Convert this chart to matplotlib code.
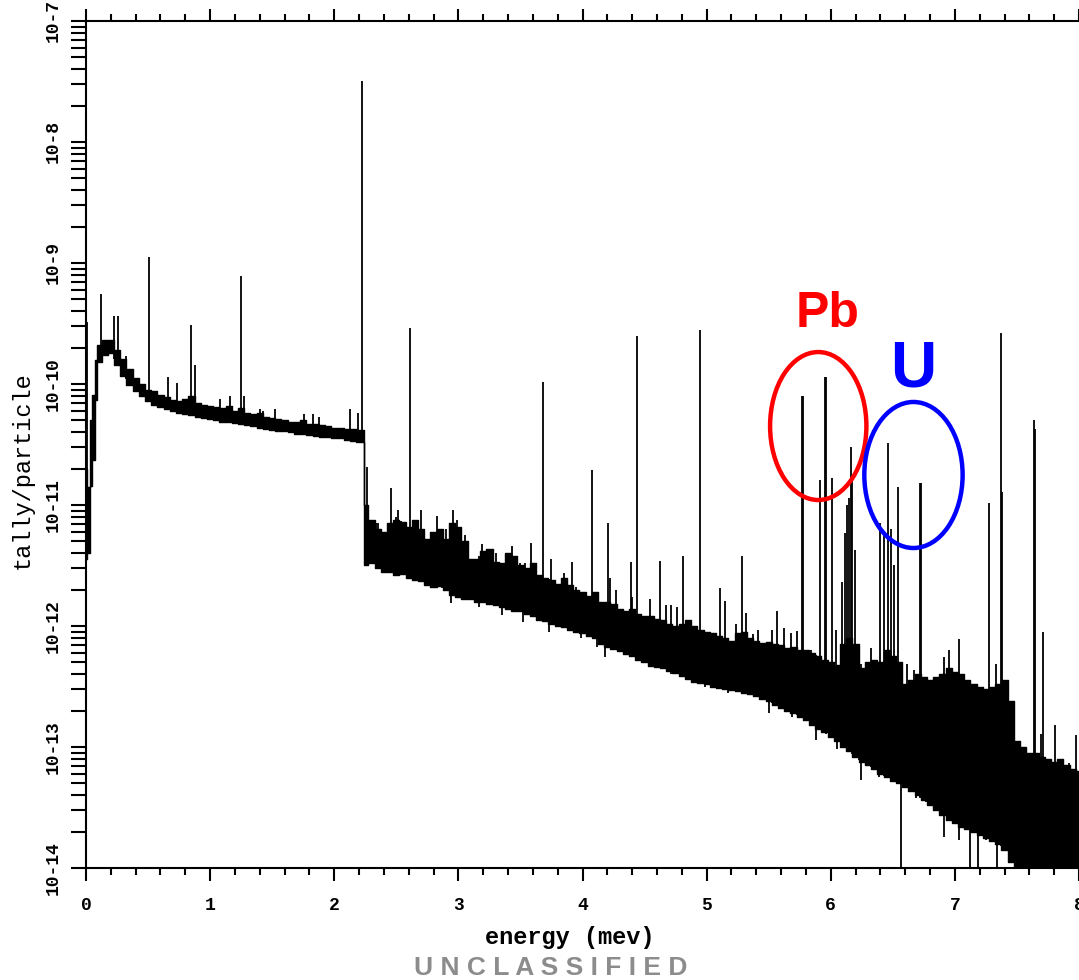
import matplotlib.pyplot as plt
import numpy as np
from matplotlib.patches import Ellipse
from matplotlib.ticker import FixedLocator, FuncFormatter, MultipleLocator, NullFormatter

# continuum band: energy (mev) and log10(tally/particle)
# of the upper and lower edge of the noisy trace
band_e = [
    0.00, 0.02, 0.04, 0.06, 0.08, 0.10,
    0.15, 0.20, 0.25, 0.30, 0.35, 0.40, 0.45, 0.50, 0.55, 0.60,
    0.65, 0.70, 0.75, 0.80, 0.85, 0.90, 0.95, 1.00, 1.05, 1.10,
    1.15, 1.20, 1.25, 1.30, 1.35, 1.40, 1.45, 1.50, 1.55, 1.60,
    1.65, 1.70, 1.75, 1.80, 1.85, 1.90, 1.95, 2.00, 2.05, 2.10,
    2.15, 2.20, 2.225,
    2.25, 2.30, 2.35, 2.40, 2.45, 2.50, 2.55, 2.60, 2.65, 2.70,
    2.75, 2.80, 2.85, 2.90, 2.95, 3.00, 3.05, 3.10, 3.15, 3.20,
    3.25, 3.30, 3.35, 3.40, 3.45, 3.50, 3.55, 3.60, 3.65, 3.70,
    3.75, 3.80, 3.85, 3.90, 3.95, 4.00, 4.05, 4.10, 4.15, 4.20,
    4.25, 4.30, 4.35, 4.40, 4.45, 4.50, 4.55, 4.60, 4.65, 4.70,
    4.75, 4.80, 4.85, 4.90, 4.95, 5.00, 5.05, 5.10, 5.15, 5.20,
    5.25, 5.30, 5.35, 5.40, 5.45, 5.50, 5.55, 5.60, 5.65, 5.70,
    5.75, 5.80, 5.85, 5.90, 5.95, 6.00, 6.05, 6.10, 6.15, 6.20,
    6.25, 6.30, 6.35, 6.40, 6.45, 6.50, 6.55, 6.60, 6.65, 6.70,
    6.75, 6.80, 6.85, 6.90, 6.95, 7.00, 7.05, 7.10, 7.15, 7.20,
    7.25, 7.30, 7.35, 7.40, 7.45, 7.50, 7.55, 7.60, 7.65, 7.70,
    7.75, 7.80, 7.85, 7.90, 7.95, 8.00,
]
band_hi = [
    -10.70, -10.85, -10.30, -10.09, -9.80, -9.68,
    -9.64, -9.64, -9.72, -9.79, -9.88, -9.95, -10.00, -10.05, -10.06, -10.09,
    -10.11, -10.13, -10.14, -10.12, -10.10, -10.16, -10.17, -10.18, -10.19, -10.20,
    -10.18, -10.22, -10.20, -10.24, -10.25, -10.24, -10.27, -10.28, -10.29, -10.30,
    -10.31, -10.31, -10.30, -10.33, -10.33, -10.34, -10.35, -10.36, -10.36, -10.37,
    -10.37, -10.38, -10.38,
    -11.00, -11.12, -11.20, -11.22, -11.15, -11.12, -11.14, -11.18, -11.12, -11.20,
    -11.28, -11.22, -11.20, -11.28, -11.15, -11.18, -11.30, -11.45, -11.45, -11.38,
    -11.36, -11.47, -11.48, -11.40, -11.42, -11.50, -11.52, -11.48, -11.58, -11.60,
    -11.62, -11.65, -11.60, -11.66, -11.70, -11.72, -11.75, -11.72, -11.80, -11.80,
    -11.82, -11.86, -11.88, -11.86, -11.90, -11.92, -11.92, -11.94, -11.95, -11.98,
    -12.00, -11.98, -11.95, -12.00, -12.03, -12.05, -12.06, -12.08, -12.10, -12.12,
    -12.06, -12.05, -12.10, -12.12, -12.14, -12.13, -12.15, -12.16, -12.18, -12.17,
    -12.20, -12.20, -12.22, -12.25, -12.28, -12.30, -12.32, -12.15, -12.10, -12.15,
    -12.35, -12.30, -12.28, -12.30, -12.20, -12.25, -12.30, -12.48, -12.45, -12.40,
    -12.42, -12.45, -12.42, -12.40, -12.35, -12.38, -12.40, -12.45, -12.48, -12.50,
    -12.52, -12.50, -12.48, -12.45, -12.62, -12.95, -13.00, -13.05, -13.05, -13.08,
    -13.10, -13.12, -13.10, -13.15, -13.18, -13.20,
]
band_lo = [
    -11.45, -11.40, -10.84, -10.63, -10.13, -9.82,
    -9.76, -9.74, -9.84, -9.93, -10.01, -10.06, -10.10, -10.14, -10.17, -10.19,
    -10.21, -10.22, -10.24, -10.25, -10.26, -10.27, -10.28, -10.29, -10.30, -10.31,
    -10.31, -10.32, -10.33, -10.34, -10.35, -10.36, -10.37, -10.38, -10.39, -10.39,
    -10.40, -10.41, -10.41, -10.42, -10.43, -10.44, -10.44, -10.45, -10.45, -10.46,
    -10.47, -10.48, -10.48,
    -11.50, -11.48, -11.52, -11.55, -11.55, -11.58, -11.57, -11.60, -11.62, -11.63,
    -11.66, -11.68, -11.67, -11.70, -11.74, -11.76, -11.78, -11.78, -11.80, -11.80,
    -11.82, -11.83, -11.84, -11.86, -11.88, -11.88, -11.90, -11.92, -11.95, -11.96,
    -11.98, -12.00, -12.01, -12.03, -12.05, -12.06, -12.08, -12.10, -12.15, -12.17,
    -12.19, -12.21, -12.23, -12.25, -12.28, -12.30, -12.33, -12.34, -12.35, -12.37,
    -12.39, -12.41, -12.44, -12.46, -12.47, -12.48, -12.50, -12.51, -12.52, -12.53,
    -12.54, -12.55, -12.56, -12.58, -12.60, -12.62, -12.65, -12.68, -12.70, -12.72,
    -12.75, -12.78, -12.82, -12.85, -12.88, -12.92, -12.95, -13.00, -13.03, -13.08,
    -13.12, -13.15, -13.18, -13.22, -13.25, -13.28, -13.30, -13.33, -13.36, -13.40,
    -13.44, -13.48, -13.52, -13.56, -13.60, -13.63, -13.66, -13.68, -13.70, -13.73,
    -13.75, -13.78, -13.80, -13.85, -13.95, -14.05, -14.05, -14.05, -14.05, -14.05,
    -14.05, -14.05, -14.05, -14.05, -14.05, -14.05,
]

# discrete lines and noise spikes above the band: energy (mev), log10 of peak
line_e = [
    0.01, 0.12, 0.225, 0.257, 0.32, 0.507, 0.66, 0.73, 0.845, 0.877,
    1.078, 1.158, 1.247, 1.271, 1.40, 1.424, 1.52, 1.76, 1.826, 1.874,
    2.124, 2.188, 2.22,
    2.26, 2.34, 2.35, 2.454, 2.50, 2.51, 2.607, 2.695, 2.824, 2.87,
    2.90, 2.96, 2.99, 3.05, 3.194, 3.25, 3.30, 3.36, 3.435, 3.50,
    3.54, 3.588, 3.685, 3.749, 3.85, 3.918, 3.95, 4.079, 4.208, 4.224,
    4.272, 4.393, 4.40, 4.441, 4.545, 4.626, 4.67, 4.714, 4.76, 4.81,
    4.948, 5.109, 5.149, 5.24, 5.286, 5.318, 5.37, 5.41, 5.53, 5.567,
    5.623, 5.68, 5.73, 5.765, 5.773, 5.84, 5.88, 5.913, 5.957, 5.965,
    6.01, 6.042, 6.09, 6.115, 6.13, 6.145, 6.16, 6.175, 6.195, 6.23,
    6.28, 6.323, 6.40, 6.43, 6.46, 6.485, 6.51, 6.54, 6.613, 6.67,
    6.722, 6.730, 6.77, 6.86, 6.91, 6.951, 7.031, 7.11, 7.17, 7.273,
    7.33, 7.369, 7.377, 7.51, 7.57, 7.635, 7.643, 7.69, 7.707, 7.804,
    7.92, 7.973,
]
line_top = [
    -9.49, -9.26, -9.44, -9.44, -9.77, -8.95, -9.94, -9.99, -9.51, -9.84,
    -10.12, -10.10, -9.11, -10.10, -10.21, -10.22, -10.21, -10.25, -10.25, -10.27,
    -10.21, -10.24, -7.50,
    -10.69, -11.15, -11.15, -10.86, -11.10, -11.04, -9.54, -11.04, -11.09, -11.23,
    -11.20, -11.04, -11.12, -11.25, -11.32, -11.37, -11.40, -11.48, -11.34, -11.48,
    -11.48, -11.31, -9.98, -11.45, -11.56, -11.47, -11.68, -10.71, -11.15, -11.60,
    -11.70, -11.47, -11.76, -9.60, -11.78, -11.46, -11.83, -11.83, -11.84, -11.42,
    -9.55, -11.69, -11.79, -11.98, -11.42, -11.89, -12.07, -12.03, -12.03, -11.88,
    -12.02, -12.06, -12.04, -10.10, -10.10, -12.20, -12.25, -10.79, -9.94, -9.94,
    -10.78, -12.03, -11.64, -11.23, -11.00, -10.94, -10.52, -10.75, -11.37, -12.28,
    -12.33, -12.18, -11.15, -11.22, -10.49, -11.20, -11.50, -10.85, -12.31, -12.36,
    -10.82, -10.82, -12.42, -12.47, -12.26, -12.20, -12.11, -12.50, -12.48, -10.98,
    -12.31, -9.58, -10.89, -12.96, -13.00, -10.30, -10.37, -12.89, -12.05, -12.82,
    -13.13, -12.90,
]

# noise spikes below the band: energy (mev), log10 of the bin bottom
notch_e = [
    2.43, 2.54, 2.94, 3.17, 3.35, 3.52, 3.73, 3.99, 4.12, 4.18,
    4.71, 4.99, 5.17, 5.50, 5.69, 5.88, 6.05, 6.24, 6.39, 6.69,
    6.91, 7.03, 7.25,
]
notch_bot = [
    -11.55, -11.55, -11.81, -11.84, -11.91, -11.97, -12.05, -12.10, -12.17, -12.26,
    -12.40, -12.50, -12.55, -12.72, -12.75, -12.94, -13.02, -13.27, -13.25, -13.42,
    -13.74, -13.77, -13.77,
]

# empty bins, drawn down to the bottom of the axis
dip_e = [6.565, 7.12, 7.184, 7.337]

mono = "Liberation Mono"

fig = plt.figure(figsize=(10.79, 9.8), dpi=100)
ax = fig.add_axes([86 / 1079, 112 / 980, 993 / 1079, 847 / 980])

e = np.array(band_e)
ax.fill_between(e, 10.0 ** np.array(band_lo), 10.0 ** np.array(band_hi),
                step="mid", color="black", lw=1.0)

le = np.array(line_e)
ax.vlines(le, 10.0 ** np.interp(le, e, band_lo), 10.0 ** np.array(line_top),
          color="black", lw=1.3)

ne = np.array(notch_e)
ax.vlines(ne, 10.0 ** np.array(notch_bot), 10.0 ** np.interp(ne, e, band_hi),
          color="black", lw=1.3)

de = np.array(dip_e)
ax.vlines(de, 1e-15, 10.0 ** np.interp(de, e, band_lo), color="black", lw=1.3)

ax.set_yscale("log")
ax.set_ylim(1e-14, 1e-7)
ax.set_xlim(0, 8.0)

ax.xaxis.set_major_locator(MultipleLocator(1))
ax.xaxis.set_minor_locator(MultipleLocator(0.2))
decades = [10.0 ** k for k in range(-14, -6)]
ax.yaxis.set_major_locator(FixedLocator(decades))
ax.yaxis.set_minor_locator(FixedLocator([m * d for d in decades[:-1] for m in range(2, 10)]))
ax.yaxis.set_minor_formatter(NullFormatter())
ax.yaxis.set_major_formatter(FuncFormatter(lambda v, p: f"10{int(round(np.log10(v)))}"))

ax.tick_params(axis="x", which="both", top=True, direction="out", width=1.5,
               labelsize=13, pad=12)
ax.tick_params(axis="x", which="major", length=9)
ax.tick_params(axis="x", which="minor", length=5)
ax.tick_params(axis="y", which="both", direction="out", length=10.5, width=1.5,
               labelsize=13, pad=7)
for lab in ax.get_xticklabels() + ax.get_yticklabels():
    lab.set_family(mono)
    lab.set_weight("bold")
plt.setp(ax.get_yticklabels(), rotation=90, va="center")

for side in ["left", "bottom", "top"]:
    ax.spines[side].set_linewidth(1.5)
ax.spines["right"].set_visible(False)

ax.set_xlabel("energy (mev)", family=mono, weight="bold", fontsize=17)
ax.xaxis.set_label_coords(0.487, -0.069)
ax.set_ylabel("tally/particle", family=mono, fontsize=17)
ax.yaxis.set_label_coords(-0.053, 0.47)

# element markers
ax.add_patch(Ellipse((0.7374, 0.5218), 0.097, 0.1747, transform=ax.transAxes,
                     fill=False, edgecolor="#ff0000", lw=3.2, zorder=5))
ax.add_patch(Ellipse((0.8333, 0.464), 0.099, 0.1724, transform=ax.transAxes,
                     fill=False, edgecolor="#0000ff", lw=3.2, zorder=5))
ax.text(0.7470, 0.6540, "Pb", transform=ax.transAxes, color="#ff0000",
        family="Liberation Sans", weight="bold", fontsize=36, ha="center", va="center")
ax.text(0.8330, 0.5880, "U", transform=ax.transAxes, color="#0000ff",
        family="Liberation Sans", weight="bold", fontsize=46, ha="center", va="center")

fig.text(551 / 1079, 12 / 980, "U N C L A S S I F I E D", color="#8c8c8c",
         family="Liberation Sans", weight="bold", fontsize=19, ha="center", va="center")

fig.savefig("out.png", dpi=100)
